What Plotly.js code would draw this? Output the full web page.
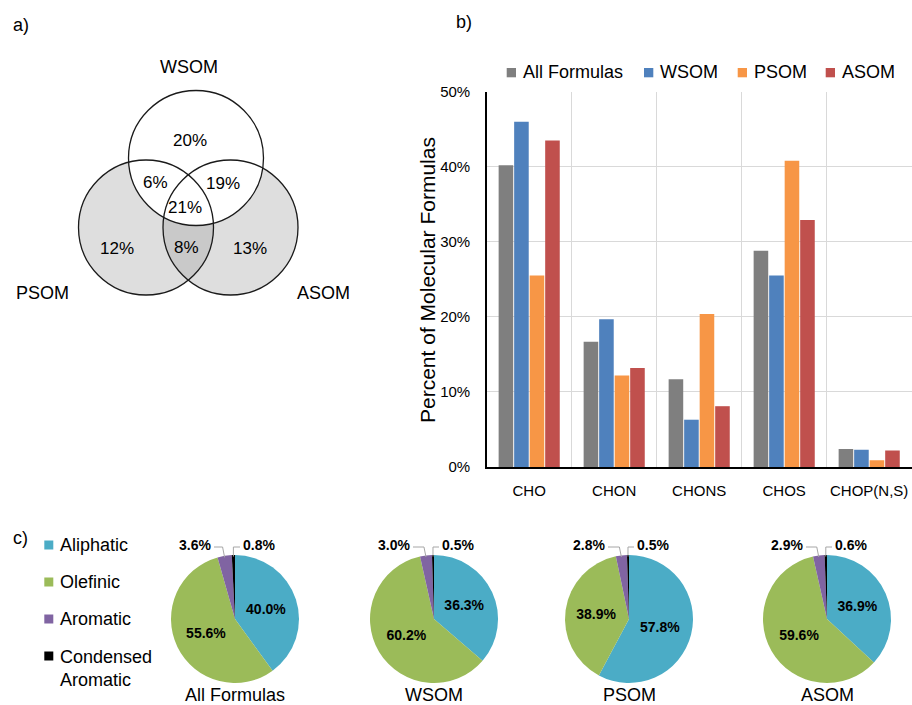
<!DOCTYPE html>
<html>
<head>
<meta charset="utf-8">
<script src="https://cdn.plot.ly/plotly-3.0.1.min.js"></script>
<style>html,body{margin:0;padding:0;background:#fff;}#chart{width:912px;height:705px;}</style>
</head>
<body>
<div id="chart"></div>
<script>
// ---------- data ----------
const categories = ['CHO', 'CHON', 'CHONS', 'CHOS', 'CHOP(N,S)'];
const seriesNames = ['All Formulas', 'WSOM', 'PSOM', 'ASOM'];
const allFormulas = [40.2, 16.7, 11.7, 28.8, 2.4];
const wsom = [46.0, 19.7, 6.3, 25.5, 2.3];
const psom = [25.5, 12.2, 20.4, 40.8, 0.9];
const asom = [43.5, 13.2, 8.1, 32.9, 2.2];

const pieLabels = ['Aliphatic', 'Olefinic', 'Aromatic', 'Condensed Aromatic'];
const pieTitles = ['All Formulas', 'WSOM', 'PSOM', 'ASOM'];
const pieAll = [40.0, 55.6, 3.6, 0.8];
const pieWsom = [36.3, 60.2, 3.0, 0.5];
const piePsom = [57.8, 38.9, 2.8, 0.5];
const pieAsom = [36.9, 59.6, 2.9, 0.6];

const vennSets = ['WSOM', 'PSOM', 'ASOM'];
// regions: W only, W∩P, W∩A, W∩P∩A, P only, P∩A, A only
const vennValues = [20, 6, 19, 21, 12, 8, 13];

// ---------- styling / layout helpers ----------
const W = 912, H = 705;
const X = p => p / W;
const Y = p => 1 - p / H;
const FONT = 'Arial, "Liberation Sans", sans-serif';
const barColors = ['#7f7f7f', '#4f81bd', '#f79646', '#c0504d'];
const pieColors = ['#4bacc6', '#9bbb59', '#8064a2', '#000000'];

const traces = [];
const seriesValues = [allFormulas, wsom, psom, asom];
seriesValues.forEach((vals, i) => {
  traces.push({
    type: 'bar', x: categories, y: vals, name: seriesNames[i],
    marker: {color: barColors[i]}, xaxis: 'x', yaxis: 'y',
    showlegend: false, hoverinfo: 'none'
  });
});

const pieValues = [pieAll, pieWsom, piePsom, pieAsom];
const pieCX = [235, 434, 629, 827];
const pieCY = 619, pieR = 64;
pieValues.forEach((vals, i) => {
  const cx = pieCX[i];
  traces.push({
    type: 'pie', values: vals, labels: pieLabels, sort: false,
    direction: 'clockwise', rotation: 0,
    marker: {colors: pieColors, line: {width: 0}},
    text: vals.map(v => v >= 10 ? v.toFixed(1) + '%' : ''),
    textinfo: 'text', textposition: 'inside', insidetextorientation: 'horizontal',
    textfont: {family: FONT, size: 14, color: '#000', weight: 'bold'},
    domain: {x: [X(cx - pieR), X(cx + pieR)], y: [Y(pieCY + pieR), Y(pieCY - pieR)]},
    showlegend: false, hoverinfo: 'none'
  });
});

const shapes = [];
const annotations = [];
function txt(text, x, y, size, opts) {
  annotations.push(Object.assign({
    text: text, x: X(x), y: Y(y), xref: 'paper', yref: 'paper',
    showarrow: false, xanchor: 'center', yanchor: 'middle',
    font: {family: FONT, size: size, color: '#000'}
  }, opts || {}));
}

// ---------- panel labels ----------
txt('a)', 21, 25, 18);
txt('b)', 464, 22, 18);
txt('c)', 20, 538, 18);

// ---------- Venn ----------
const vr = 67.5;
const vc = {W: [196, 158], P: [146, 227.5], A: [230.5, 227.5]};
function circ(c, fill, line) {
  shapes.push({type: 'circle', xref: 'paper', yref: 'paper',
    x0: X(c[0] - vr), x1: X(c[0] + vr), y0: Y(c[1] + vr), y1: Y(c[1] - vr),
    fillcolor: fill, line: line});
}
circ(vc.P, '#dedede', {width: 0});
circ(vc.A, '#dedede', {width: 0});
// lens P∩A
(function () {
  const d = vc.A[0] - vc.P[0];
  const alpha = Math.acos((d / 2) / vr);
  let pts = [];
  const n = 40;
  for (let k = 0; k <= n; k++) {
    const t = -alpha + 2 * alpha * k / n;
    pts.push([vc.P[0] + vr * Math.cos(t), vc.P[1] + vr * Math.sin(t)]);
  }
  for (let k = 0; k <= n; k++) {
    const t = Math.PI - alpha + 2 * alpha * k / n;
    pts.push([vc.A[0] + vr * Math.cos(t), vc.A[1] + vr * Math.sin(t)]);
  }
  const path = pts.map((p, i) => (i ? 'L' : 'M') + X(p[0]).toFixed(5) + ',' + Y(p[1]).toFixed(5)).join(' ') + ' Z';
  shapes.push({type: 'path', xref: 'paper', yref: 'paper', path: path, fillcolor: '#c9c9c9', line: {width: 0}});
})();
circ(vc.W, '#ffffff', {width: 0});
['W', 'P', 'A'].forEach(k => circ(vc[k], 'rgba(0,0,0,0)', {color: '#1a1a1a', width: 1.3}));

const vennRegionPos = [[190, 141], [155, 182.5], [223, 184], [185, 207.5], [117, 249], [186, 247.5], [250, 249]];
vennValues.forEach((v, i) => txt(v + '%', vennRegionPos[i][0], vennRegionPos[i][1], 17));
const vennNamePos = [[189, 67.5], [42, 293], [323, 293]];
vennSets.forEach((s, i) => txt(s, vennNamePos[i][0], vennNamePos[i][1], 18));

// ---------- bar legend (manual) ----------
const barLegendX = [506.7, 644, 737.7, 825.7];
seriesNames.forEach((n, i) => {
  const x0 = barLegendX[i];
  shapes.push({type: 'rect', xref: 'paper', yref: 'paper', x0: X(x0), x1: X(x0 + 9.3), y0: Y(77.3), y1: Y(68), fillcolor: barColors[i], line: {width: 0}});
  txt(n, x0 + 14, 72.5, 18, {xanchor: 'left'});
});
// y-axis title
txt('Percent of Molecular Formulas', 427, 280, 21, {textangle: -90});

// ---------- pie legend (manual) ----------
const pieLegY = [545, 582, 619, 656];
pieLabels.forEach((l, i) => {
  const y = pieLegY[i];
  shapes.push({type: 'rect', xref: 'paper', yref: 'paper', x0: X(44.3), x1: X(53.3), y0: Y(y + 4.5), y1: Y(y - 4.5), fillcolor: pieColors[i], line: {width: 0}});
  if (l.indexOf(' ') > 0 && i === 3) {
    txt(l.replace(' ', '<br>'), 58, y - 11, 18, {xanchor: 'left', yanchor: 'top', align: 'left'});
  } else {
    txt(l, 58, y, 18, {xanchor: 'left'});
  }
});

// ---------- pie titles and small-slice labels ----------
pieValues.forEach((vals, i) => {
  const cx = pieCX[i];
  txt(pieTitles[i], cx, 695, 18);
  const sum = vals.reduce((a, b) => a + b, 0);
  const start2 = (vals[0] + vals[1]) / sum * 360;
  const mid2 = start2 + vals[2] / sum * 180;
  const mid3 = (vals[0] + vals[1] + vals[2]) / sum * 360 + vals[3] / sum * 180;
  const pt = a => [cx + pieR * Math.sin(a * Math.PI / 180), pieCY - pieR * Math.cos(a * Math.PI / 180)];
  const elbowY = pieCY - 72;
  const p2 = pt(mid2), p3 = pt(mid3);
  const lp = pts => pts.map((p, k) => (k ? 'L' : 'M') + X(p[0]).toFixed(5) + ',' + Y(p[1]).toFixed(5)).join(' ');
  shapes.push({type: 'path', xref: 'paper', yref: 'paper', line: {color: '#a6a6a6', width: 1},
    path: lp([[cx - 21, elbowY], [p2[0] - 2, elbowY], [p2[0], p2[1] + 1.5]])});
  shapes.push({type: 'path', xref: 'paper', yref: 'paper', line: {color: '#a6a6a6', width: 1},
    path: lp([[cx + 5, elbowY], [p3[0], elbowY], [p3[0], p3[1] + 1.5]])});
  txt('<b>' + vals[2].toFixed(1) + '%</b>', cx - 22, pieCY - 74, 14, {xanchor: 'right'});
  txt('<b>' + vals[3].toFixed(1) + '%</b>', cx + 6, pieCY - 74, 14, {xanchor: 'left'});
});

const layout = {
  width: W, height: H,
  margin: {l: 0, r: 0, t: 0, b: 0, pad: 0},
  paper_bgcolor: '#ffffff', plot_bgcolor: 'rgba(0,0,0,0)',
  font: {family: FONT, color: '#000'},
  showlegend: false,
  barmode: 'group', bargap: 0.27, bargroupgap: 0.06,
  xaxis: {
    domain: [X(486.7), X(911.7)], type: 'category', tickson: 'boundaries',
    showgrid: true, gridcolor: '#d9d9d9', gridwidth: 1,
    showline: true, linecolor: '#000', linewidth: 1.5, ticks: '',
    tickangle: 0,
    tickfont: {family: FONT, size: 15, color: '#000'}, ticklabelstandoff: 9,
    anchor: 'y', fixedrange: true, automargin: false
  },
  yaxis: {
    domain: [Y(467), Y(91.7)], range: [0, 50], dtick: 10, ticksuffix: '%',
    showgrid: true, gridcolor: '#d9d9d9', gridwidth: 1,
    showline: true, linecolor: '#000', linewidth: 1.5, zeroline: false, ticks: '',
    tickfont: {family: FONT, size: 15, color: '#000'}, ticklabelstandoff: 12,
    anchor: 'x', fixedrange: true, automargin: false
  },
  shapes: shapes,
  annotations: annotations
};

Plotly.newPlot('chart', traces, layout, {staticPlot: true, displayModeBar: false});
</script>
</body>
</html>
